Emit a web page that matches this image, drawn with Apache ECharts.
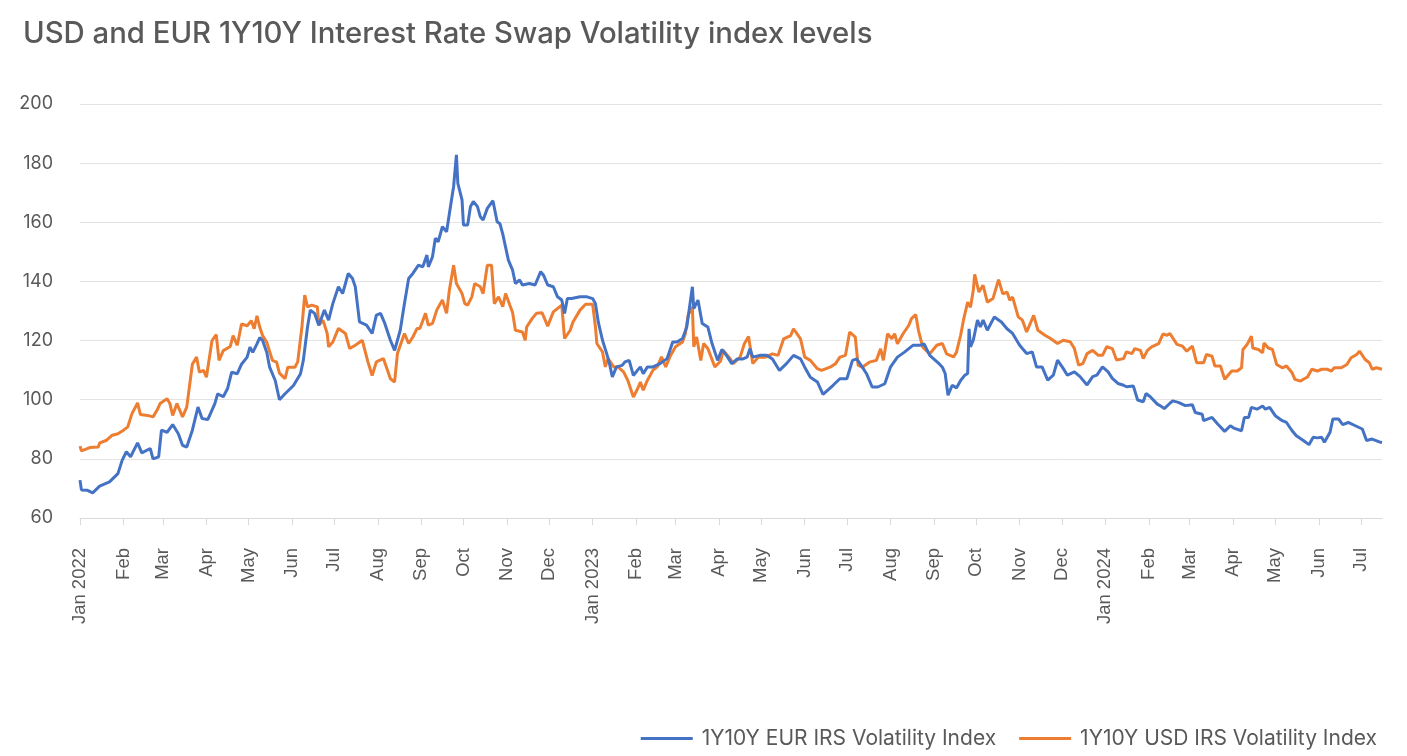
<!DOCTYPE html>
<html>
<head>
<meta charset="utf-8">
<script src="https://cdn.jsdelivr.net/npm/echarts@6/dist/echarts.min.js"></script>
<style>
html,body{margin:0;padding:0;background:#fff;}
#chart{width:1407px;height:756px;}
</style>
</head>
<body>
<div id="chart"></div>
<script>
// ---- data ----
const startDate = '2022-01-01';
const dayCount = 928; // daily categories through mid-July 2024
const monthNames = ['Jan','Feb','Mar','Apr','May','Jun','Jul','Aug','Sep','Oct','Nov','Dec'];
const yTicks = [60, 80, 100, 120, 140, 160, 180, 200];
const seriesNames = ['1Y10Y EUR IRS Volatility Index', '1Y10Y USD IRS Volatility Index'];
const titleText = 'USD and EUR 1Y10Y Interest Rate Swap Volatility index levels';

// [days since 2022-01-01, index level]
const eurPoints = [[0,72.8],[1,69.5],[5,69.4],[9,68.5],[14,70.8],[21,72.2],[27,75],[30,79.5],[33,82.4],[36,80.7],[41,85.4],[44,82],[50,83.5],[52,80],[56,80.7],[58,89.7],[62,89],[66,91.6],[70,88.5],[73,84.6],[76,84],[80,89.7],[84,97.5],[87,93.6],[91,93.3],[96,98.7],[98,102],[102,101],[105,103.7],[108,109.3],[112,108.8],[115,112],[119,114.4],[121,117.8],[123,116],[126,118.9],[128,121],[130,120],[133,116],[135,111],[139,106.5],[142,100],[146,102],[152,104.8],[157,108.8],[159,113.3],[162,124.6],[164,130.3],[167,129.2],[170,125.2],[174,130.3],[177,126.9],[180,132.5],[184,138.2],[187,135.9],[189,139.3],[191,142.7],[194,141],[196,138.2],[199,126.3],[204,125.2],[208,122.4],[211,128.6],[214,129.2],[217,125.8],[221,120.1],[224,116.7],[228,123.5],[231,132.5],[234,141],[237,142.7],[241,145.5],[244,144.9],[247,148.9],[248,144.9],[251,148.4],[253,154.6],[255,153.4],[258,158.5],[261,156.8],[263,163],[266,172.1],[268,182.8],[269,173.2],[272,167.6],[273,159.1],[276,159.1],[278,165.3],[280,167],[283,165.3],[285,161.9],[287,160.8],[290,164.7],[294,167.3],[297,160.2],[299,159.5],[301,156],[305,147.2],[308,143.8],[310,139.3],[313,140.5],[315,138.8],[320,139.3],[324,138.8],[328,143.3],[330,142.1],[333,138.8],[337,138.2],[340,134.8],[343,133.7],[345,129.2],[347,134.2],[350,134.2],[356,134.8],[361,134.8],[365,134.2],[367,132.5],[369,126.3],[372,120.1],[375,115.6],[377,112.2],[379,107.7],[382,111.1],[386,111.6],[388,112.8],[391,113.3],[394,108.2],[397,110],[399,111.1],[401,108.8],[404,111.1],[408,111.1],[413,112.2],[418,113.9],[422,119.5],[425,119.5],[429,120.7],[432,124.6],[434,131.4],[436,138.2],[437,130.8],[440,133.7],[443,125.8],[445,125.2],[447,124.6],[450,119],[454,113.3],[457,117],[461,114.5],[464,112.2],[468,113.8],[472,113.8],[475,114.4],[477,117.2],[479,114.4],[484,115],[489,115],[493,113.8],[498,109.9],[503,112.2],[508,115],[513,113.8],[516,111],[520,107.6],[525,106],[529,101.8],[532,103.1],[536,104.8],[541,107.1],[546,107.1],[550,113.3],[553,113.8],[557,111],[560,108.8],[564,104.3],[568,104.3],[573,105.4],[577,111],[582,114.4],[587,116.1],[593,118.4],[598,118.4],[601,118.9],[605,115],[612,112],[614,111],[616,108.8],[618,101.5],[621,104.9],[624,104],[627,106.5],[630,108.3],[632,108.9],[633,124],[634,117.9],[636,120.1],[639,126.9],[641,124.6],[643,126.9],[646,123.5],[651,128],[656,126.3],[660,124],[664,122.4],[669,118.4],[674,115.6],[678,116.2],[681,111.1],[685,111.1],[689,106.6],[693,108.3],[696,113.4],[700,110.6],[703,108.3],[708,109.4],[712,107.8],[717,105],[721,107.8],[724,108.3],[728,111.1],[732,109.4],[735,107.2],[739,105.5],[743,104.9],[745,104.4],[750,104.6],[753,99.9],[757,99.3],[759,102.1],[762,101],[767,98.5],[769,98],[772,97],[776,98.8],[778,99.6],[782,99.1],[787,98],[792,98.3],[794,95.7],[799,95.1],[800,92.9],[806,94],[810,91.8],[815,89.3],[819,91.2],[822,90.3],[827,89.5],[829,94],[832,94],[834,97.4],[838,96.8],[842,97.9],[844,96.8],[847,97.4],[851,94.6],[856,92.9],[859,92.3],[863,89.5],[866,87.8],[871,86.2],[875,84.8],[878,87.3],[881,87.1],[884,87.3],[886,85.6],[890,89],[892,93.5],[896,93.5],[899,91.6],[903,92.3],[908,91.2],[913,90.1],[916,86.2],[920,86.7],[926,85.6],[927,85.5]];

const usdPoints = [[0,84.3],[1,82.7],[7,83.8],[13,84],[14,85.4],[19,86.3],[23,88],[27,88.5],[31,89.7],[34,90.8],[37,95.3],[41,98.9],[43,95],[48,94.7],[52,94.2],[55,96.6],[57,98.7],[62,100.3],[64,98.7],[66,94.7],[69,98.7],[70,99.2],[73,94.2],[76,97.5],[80,112],[83,114.4],[85,109.3],[88,109.9],[90,107.6],[94,120],[97,122],[99,113.3],[102,116.6],[107,118],[109,121.7],[112,118.4],[115,125.6],[119,125],[122,126.7],[124,124],[126,128.4],[128,124.5],[130,121.7],[133,119.4],[137,113.3],[140,112.7],[142,109],[146,107.1],[148,111],[153,111],[155,112.8],[158,124.6],[160,135.4],[162,131.4],[165,132],[169,131.4],[170,125.2],[173,126.9],[176,122.4],[177,117.9],[180,119.5],[184,124.1],[189,122.4],[192,117.3],[196,118.4],[201,120.1],[205,112.8],[208,108.2],[211,112.8],[216,113.9],[219,109.9],[221,107.1],[224,106],[226,115.6],[231,122.4],[234,119],[237,121.2],[240,124.1],[242,124.1],[246,129.2],[248,125.2],[251,125.8],[254,130.3],[258,133.7],[261,129.2],[263,137.1],[266,145.5],[268,139.3],[272,135.9],[274,132.5],[276,132],[279,134.8],[281,139.3],[285,138.2],[287,135.9],[290,145.5],[293,145.5],[295,132.5],[298,134.8],[301,131.5],[303,135.9],[306,132],[308,129.5],[310,123.5],[315,122.9],[317,120.1],[318,124.6],[322,127.5],[325,129.2],[329,129.4],[333,124.9],[337,129.7],[343,132],[345,120.7],[349,123.5],[351,126.3],[356,130.3],[360,132.3],[365,132.3],[367,124.6],[368,119],[372,116.2],[374,111.1],[376,113.9],[380,111.1],[383,111.1],[387,109.4],[390,106.6],[394,100.9],[397,103.7],[399,106],[401,103.2],[404,106.6],[408,110],[411,111.1],[414,114.5],[417,111.1],[420,114.5],[424,117.9],[429,119.5],[431,122.4],[433,128.6],[436,131.4],[437,117.9],[439,121.2],[442,113.3],[444,119],[447,117.3],[452,111.1],[456,113],[458,116.7],[463,113.8],[465,112.2],[470,114.4],[473,118.9],[476,121.4],[479,112.2],[483,114.4],[488,114.4],[493,115.5],[497,115],[501,120.6],[506,121.7],[508,124],[513,120.6],[516,114.4],[520,113.3],[525,110.5],[528,109.9],[534,111],[538,112.2],[541,114.4],[545,115],[548,122.9],[552,121.2],[554,111.6],[557,111],[562,112.7],[567,113.3],[570,117.2],[572,113.3],[575,122.3],[578,120.6],[580,122.3],[582,118.9],[586,122.3],[590,125.1],[592,127.4],[595,128.8],[597,123.4],[600,117.8],[605,115.5],[610,118.4],[614,119],[617,115.5],[622,114.5],[624,116],[627,121.8],[629,126.9],[632,133],[634,131.3],[636,137],[637,142.4],[640,136.4],[643,138.7],[646,133],[650,134.2],[654,140.6],[657,135.8],[660,136.4],[662,133.6],[664,134.7],[668,128],[671,126.9],[674,122.9],[679,128.5],[682,123.5],[687,121.8],[691,120.7],[696,119],[700,120.1],[705,119.6],[708,117.3],[711,111.7],[714,112.2],[717,115.6],[721,116.7],[725,115],[728,115],[731,117.9],[735,117.3],[738,113.4],[743,113.9],[745,116.2],[749,115.6],[751,117.3],[755,116.7],[757,113.9],[760,116.7],[763,117.9],[768,119],[771,122.2],[774,121.8],[776,122.4],[777,122],[781,118.7],[785,118.1],[788,116.4],[792,118.1],[795,112.5],[800,112.5],[802,115.3],[806,114.7],[808,111.4],[812,111.4],[815,106.9],[820,109.7],[824,109.7],[827,110.8],[828,117],[831,118.7],[834,121.5],[835,117.5],[839,117],[842,115.9],[843,119.2],[846,117.5],[849,117],[852,111.9],[856,110.8],[859,111.4],[863,109.1],[865,106.9],[869,106.3],[871,106.9],[874,107.7],[877,110.3],[881,109.7],[884,110.3],[888,110.3],[891,109.7],[893,110.8],[898,110.8],[902,111.9],[905,114.2],[909,115.3],[911,116.4],[915,113.6],[918,112.5],[920,110.3],[923,110.8],[927,110.3]];

// ---- build categories ----
const start = new Date(startDate + 'T00:00:00Z');
const categories = [];
for (let i = 0; i < dayCount; i++) {
  const d = new Date(start.getTime() + i * 86400000);
  categories.push(d.toISOString().slice(0, 10));
}
function toSeries(points) {
  const arr = new Array(dayCount).fill(null);
  points.forEach(p => { arr[p[0]] = p[1]; });
  return arr;
}
function isMonthStart(idx) {
  return categories[idx] && categories[idx].slice(8, 10) === '01';
}
function monthLabel(val) {
  const m = parseInt(val.slice(5, 7), 10) - 1;
  return m === 0 ? monthNames[m] + ' ' + val.slice(0, 4) : monthNames[m];
}

const labelColor = '#595959';
const chart = echarts.init(document.getElementById('chart'), null, {renderer: 'canvas'});
chart.setOption({
  animation: false,
  backgroundColor: '#ffffff',
  title: {
    text: titleText,
    left: 18,
    top: 15,
    textStyle: {fontFamily: 'Inter', fontSize: 29.3, fontWeight: 500, color: '#595959'}
  },
  legend: {
    data: seriesNames,
    right: 25,
    top: 723,
    icon: 'rect',
    itemWidth: 52,
    itemHeight: 3,
    itemGap: 23,
    textStyle: {fontFamily: 'Inter', fontSize: 21, color: labelColor, padding: [0, 0, 0, 4]}
  },
  grid: {left: 80, right: 25, top: 104, bottom: 238, containLabel: false},
  xAxis: {
    type: 'category',
    data: categories,
    boundaryGap: false,
    axisLine: {show: true, lineStyle: {color: '#d9d9d9', width: 1}},
    axisTick: {show: true, interval: (i) => isMonthStart(i), length: 7, lineStyle: {color: '#d9d9d9'}},
    axisLabel: {
      interval: (i) => isMonthStart(i),
      rotate: 90,
      margin: 30,
      formatter: (v) => monthLabel(v),
      fontFamily: 'Liberation Sans',
      fontSize: 18.5,
      color: labelColor
    },
    splitLine: {show: false}
  },
  yAxis: {
    type: 'value',
    min: yTicks[0],
    max: yTicks[yTicks.length - 1],
    interval: yTicks[1] - yTicks[0],
    axisLine: {show: false},
    axisTick: {show: false},
    axisLabel: {margin: 27, fontFamily: 'Inter', fontSize: 18, color: labelColor},
    splitLine: {lineStyle: {color: '#e3e3e3', width: 1}}
  },
  series: [
    {
      name: seriesNames[0], type: 'line', data: toSeries(eurPoints), connectNulls: true,
      showSymbol: false, symbol: 'none', lineStyle: {color: '#4472C4', width: 3}, itemStyle: {color: '#4472C4'}, z: 3
    },
    {
      name: seriesNames[1], type: 'line', data: toSeries(usdPoints), connectNulls: true,
      showSymbol: false, symbol: 'none', lineStyle: {color: '#ED7D31', width: 3}, itemStyle: {color: '#ED7D31'}, z: 2
    }
  ]
});
</script>
</body>
</html>
